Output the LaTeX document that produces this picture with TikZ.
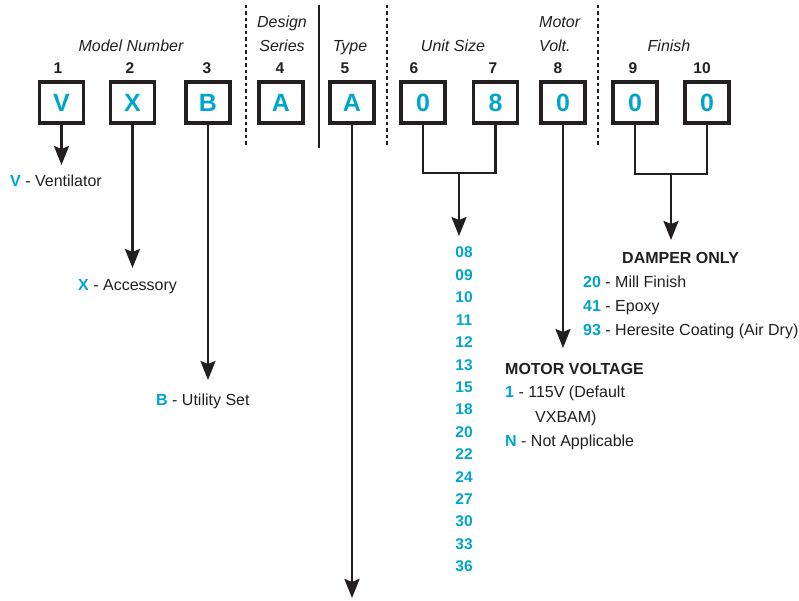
\documentclass[tikz,border=0pt]{standalone}
\usepackage{fontspec}
\setmainfont{Liberation Sans}
\usepackage{xcolor}
\usetikzlibrary{positioning, arrows.meta, calc}

\definecolor{codecyan}{RGB}{0,166,202}
\definecolor{inkblack}{RGB}{35,31,32}
\newcommand{\optcode}[1]{\textcolor{codecyan}{\bfseries #1}}

\begin{document}
\begin{tikzpicture}[
        x=1pt, y=-1pt,
        % Style for the code letter boxes
        digitbox/.style={
            draw=inkblack,
            line width=3.8pt,
            minimum width=44pt,
            minimum height=41pt,
            inner sep=0pt,
            text=codecyan,
            font=\fontsize{25}{28}\selectfont\bfseries
        },
        % Style for the position numbers above the boxes
        posnum/.style={
            anchor=base,
            inner sep=0pt,
            text=inkblack,
            font=\fontsize{15.5}{18}\selectfont\bfseries
        },
        % Style for the group headings
        fieldlabel/.style={
            anchor=base,
            inner sep=0pt,
            text=inkblack,
            font=\fontsize{16}{19}\selectfont\itshape
        },
        % Style for the option descriptions
        optiontext/.style={
            anchor=base west,
            inner sep=0pt,
            text=inkblack,
            font=\fontsize{16}{19}\selectfont
        },
        optionhead/.style={
            optiontext,
            font=\fontsize{16}{19}\selectfont\bfseries
        },
        % Style for the unit size codes
        sizecode/.style={
            anchor=base,
            inner sep=0pt,
            text=codecyan,
            font=\fontsize{15.5}{19}\selectfont\bfseries
        },
        % Style for the arrows
        codearrow/.style={
            -{Stealth[length=19pt, width=15pt, inset=3pt]},
            line width=2.5pt,
            draw=inkblack
        },
        bracketline/.style={
            line width=2.5pt,
            draw=inkblack
        },
        divider/.style={
            line width=1.2pt,
            draw=inkblack
        },
        dashdivider/.style={
            divider,
            dash pattern=on 3.5pt off 3pt
        }
    ]

    \useasboundingbox (0,0) rectangle (799,601);

    % ==========================================
    % HEADINGS AND DIVIDERS
    % ==========================================
    \node[fieldlabel] (lbl-model) at (131,52) {Model Number};
    \node[fieldlabel] (lbl-design) at (282,28) {Design};
    \node[fieldlabel] (lbl-series) at (282,52) {Series};
    \node[fieldlabel] (lbl-type) at (350,52) {Type};
    \node[fieldlabel] (lbl-unit) at (453,52) {Unit Size};
    \node[fieldlabel, anchor=base west] (lbl-motor) at (539,28) {Motor};
    \node[fieldlabel, anchor=base west] (lbl-volt) at (539,52) {Volt.};
    \node[fieldlabel] (lbl-finish) at (669,52) {Finish};

    \draw[dashdivider] (246,5) -- (246,148);
    \draw[divider] (319,5) -- (319,148);
    \draw[dashdivider] (387,5) -- (387,148);
    \draw[dashdivider] (598,5) -- (598,148);

    % ==========================================
    % CODE BOXES
    % ==========================================
    \foreach \name/\x/\c in {b1/61.5/V, b2/132.5/X, b3/208/B, b4/281/A, b5/352/A,
                             b6/423/0, b7/495.5/8, b8/563/0, b9/635/0, b10/707/0}
        \node[digitbox] (\name) at (\x,102.5) {\c};

    \foreach \name/\x/\n in {n1/58/1, n2/130/2, n3/207/3, n4/280/4, n5/345/5,
                             n6/414/6, n7/493/7, n8/558/8, n9/633/9, n10/702/10}
        \node[posnum] (\name) at (\x,74) {\n};

    % ==========================================
    % CONNECTORS
    % ==========================================
    \coordinate (v-tip) at (61.5,165);
    \coordinate (x-tip) at (132.5,268);
    \coordinate (b-tip) at (208,380);
    \coordinate (type-tip) at (352,598);
    \coordinate (mv-tip) at (563,348);
    \coordinate (us-join) at (459,173);
    \coordinate (us-tip) at (459,236);
    \coordinate (fin-join) at (671,174);
    \coordinate (fin-tip) at (671,240);

    \draw[codearrow] (b1.south) -- (v-tip);
    \draw[codearrow] (b2.south) -- (x-tip);
    \draw[codearrow] (b3.south) -- (b-tip);
    \draw[codearrow] (b5.south) -- (type-tip);
    \draw[codearrow] (b8.south) -- (mv-tip);

    \draw[bracketline] (b6.south) |- (us-join) -| (b7.south);
    \draw[codearrow] (us-join) -- (us-tip);
    \draw[bracketline] (b9.south) |- (fin-join) -| (b10.south);
    \draw[codearrow] (fin-join) -- (fin-tip);

    % ==========================================
    % OPTION LISTS
    % ==========================================
    \node[optiontext] (opt-v) at (10,187) {\optcode{V} - Ventilator};
    \node[optiontext] (opt-x) at (78,290) {\optcode{X} - Accessory};
    \node[optiontext] (opt-b) at (156,405) {\optcode{B} - Utility Set};

    \foreach \s [count=\i from 0] in {08,09,10,11,12,13,15,18,20,22,24,27,30,33,36}
        \node[sizecode] (size-\s) at (464,258+22.4*\i) {\s};

    \node[optionhead] (damper-head) at (622,263) {DAMPER ONLY};
    \node[optiontext] (fin-20) at (583,287) {\optcode{20} - Mill Finish};
    \node[optiontext] (fin-41) at (583,311) {\optcode{41} - Epoxy};
    \node[optiontext] (fin-93) at (583,335) {\optcode{93} - Heresite Coating (Air Dry)};

    \node[optionhead] (motor-head) at (505,374) {MOTOR VOLTAGE};
    \node[optiontext] (mv-1) at (505,397) {\optcode{1} - 115V (Default};
    \node[optiontext] (mv-1b) at (535,422) {VXBAM)};
    \node[optiontext] (mv-n) at (505,446) {\optcode{N} - Not Applicable};
  \end{tikzpicture}
\end{document}
